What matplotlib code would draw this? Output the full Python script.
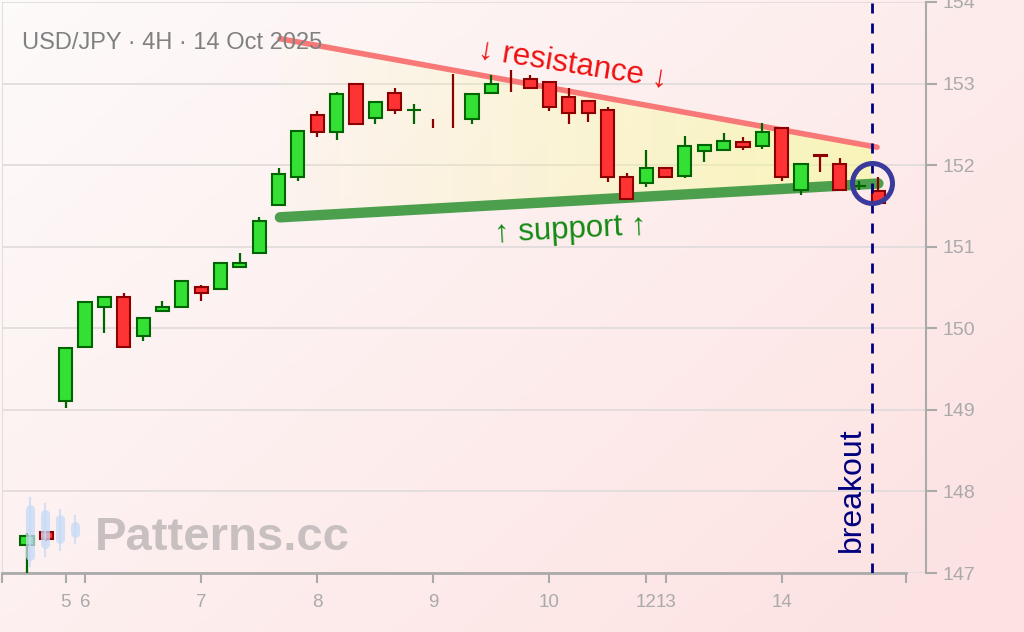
import numpy as np
import matplotlib
matplotlib.use('Agg')
import matplotlib.pyplot as plt
from matplotlib.patches import Polygon, Rectangle

plt.rcParams['font.family'] = ['Liberation Sans', 'DejaVu Sans']

# USD/JPY 4H candles (one entry per bar)
opens = [147.34, 147.50, 149.11, 149.77, 150.26, 150.38, 149.91, 150.21, 150.26, 150.50,
         150.48, 150.75, 150.92, 151.51, 151.85, 152.62, 152.41, 152.99, 152.58, 152.89,
         152.67, 152.523, 152.703, 152.56, 152.88, 153.003, 153.06, 153.02, 152.83, 152.79,
         152.67, 151.85, 151.78, 151.96, 151.87, 152.17, 152.19, 152.28, 152.24, 152.46,
         151.70, 152.12, 152.01, 151.74, 151.68]
highs = [147.49, 147.51, 149.77, 150.33, 150.39, 150.43, 150.14, 150.33, 150.59, 150.53,
         150.81, 150.92, 151.36, 151.97, 152.43, 152.66, 152.90, 153.00, 152.79, 152.95,
         152.75, 152.56, 153.12, 152.88, 153.10, 153.17, 153.10, 153.03, 152.95, 152.80,
         152.71, 151.90, 152.19, 151.97, 152.36, 152.26, 152.39, 152.34, 152.52, 152.47,
         152.02, 152.12, 152.09, 151.80, 151.86]
lows = [146.95, 147.39, 149.02, 149.77, 149.94, 149.76, 149.85, 150.20, 150.26, 150.33,
        150.47, 150.74, 150.92, 151.50, 151.80, 152.34, 152.31, 152.50, 152.51, 152.63,
        152.50, 152.46, 152.46, 152.50, 152.87, 152.90, 152.94, 152.66, 152.50, 152.53,
        151.79, 151.57, 151.73, 151.84, 151.84, 152.04, 152.18, 152.18, 152.20, 151.80,
        151.64, 151.92, 151.68, 151.70, 151.53]
closes = [147.45, 147.42, 149.76, 150.32, 150.38, 149.77, 150.13, 150.26, 150.58, 150.43,
          150.80, 150.80, 151.32, 151.89, 152.42, 152.41, 152.87, 152.51, 152.78, 152.68,
          152.68, 152.52, 152.70, 152.87, 152.99, 153.00, 152.95, 152.71, 152.64, 152.64,
          151.85, 151.58, 151.96, 151.85, 152.24, 152.25, 152.29, 152.22, 152.41, 151.85,
          152.01, 152.11, 151.70, 151.75, 151.53]

day_ticks = [2, 3, 9, 15, 21, 27, 32, 33, 39]
day_labels = ['5', '6', '7', '8', '9', '10', '12', '13', '14']
price_ticks = [147, 148, 149, 150, 151, 152, 153, 154]

# triangle lines
resist_x = [13.07, 43.93]
resist_y = [153.55, 152.22]
support_x = [13.07, 44.0]
support_y = [151.36, 151.775]
breakout_x = 43.67
breakout_y = 151.78

fig = plt.figure(figsize=(10.24, 6.32), dpi=100)

# soft pink background
bg = fig.add_axes([0, 0, 1, 1], zorder=-10)
bg.axis('off')
gx, gy = np.meshgrid(np.linspace(0, 1, 256), np.linspace(0, 1, 160))
t = np.clip(0.65 * gx + 0.45 * gy, 0, 1)[..., None]
c0 = np.array([0.996, 0.982, 0.982])
c1 = np.array([0.992, 0.890, 0.890])
bg.imshow(c0 * (1 - t) + c1 * t, aspect='auto', extent=[0, 1, 0, 1])

# main chart, bar i sits at pixel 27 + 19.35 * i
ax = fig.add_axes([2 / 1024, 59 / 632, 924 / 1024, 571 / 632])
ax.set_facecolor('none')

# pale yellow wedge, fading out to the left
xs = np.linspace(resist_x[0], breakout_x, 60)
top = np.interp(xs, resist_x, resist_y)
bot = np.interp(xs, support_x, support_y)
wedge = Polygon(np.column_stack([np.r_[xs, xs[::-1]], np.r_[top, bot[::-1]]]),
                closed=True, fc='none', ec='none')
ax.add_patch(wedge)
grad = np.zeros((2, 256, 4))
grad[..., :3] = (0.96, 1.0, 0.55)
grad[..., 3] = np.linspace(0.03, 0.52, 256)
im = ax.imshow(grad, extent=[resist_x[0], breakout_x, 151.2, 153.7], aspect='auto',
               origin='lower', zorder=1)
im.set_clip_path(wedge)

ax.plot(resist_x, resist_y, color='#f87878', lw=4, solid_capstyle='round', zorder=3)
ax.plot(support_x, support_y, color='#4c9f4c', lw=7.5, solid_capstyle='round', zorder=3)

# candles
w = 0.68
for i in range(len(opens)):
    o, h, l, c = opens[i], highs[i], lows[i], closes[i]
    up = c >= o
    face = '#33e033' if up else '#ff3333'
    edge = '#006400' if up else '#8b0000'
    ax.vlines(i, l, h, color=edge, lw=1.6, zorder=4)
    if abs(c - o) >= 0.005:
        ax.add_patch(Rectangle((i - w / 2, min(o, c)), w, abs(c - o),
                               fc=face, ec=edge, lw=1.5, zorder=5))

ax.axvline(breakout_x, color='#000080', lw=2, ls=(0, (3.6, 3.6)), zorder=6)
ax.plot(breakout_x, breakout_y, 'o', ms=28.8, mfc='none', mec='#3a3a9c', mew=3.6, zorder=7)

ax.text(28.2, 153.23, '↓ resistance ↓', color='#ee1111', fontsize=22.5, rotation=-9,
        ha='center', va='center', rotation_mode='anchor', zorder=8)
ax.text(28.1, 151.2, '↑ support ↑', color='#138a13', fontsize=22.5, rotation=3,
        ha='center', va='center', rotation_mode='anchor', zorder=8)
ax.text(42.64, 147.26, 'breakout', color='#000080', fontsize=23, rotation=90,
        ha='center', va='bottom', zorder=8)

ax.set_xlim((2 - 27) / 19.35, (926 - 27) / 19.35)
ax.set_ylim(147, 154)

ax.spines['top'].set_visible(False)
ax.spines['left'].set_color('#e4dede')
ax.spines['right'].set_color('#aaaaaa')
ax.spines['right'].set_linewidth(1.5)
ax.spines['bottom'].set_color('#aaaaaa')
ax.spines['bottom'].set_linewidth(2)
ax.spines['bottom'].set_bounds((2 - 27) / 19.35, (906 - 27) / 19.35)

ax.yaxis.tick_right()
ax.set_yticks(price_ticks)
ax.tick_params(axis='y', direction='out', length=8, width=1.5, colors='#aaaaaa',
               labelsize=14, pad=4)
ax.set_xticks(day_ticks)
ax.set_xticklabels(day_labels)
ax.set_xticks([(2 - 27) / 19.35, (906 - 27) / 19.35], minor=True)
ax.tick_params(axis='x', which='both', direction='out', length=7, width=1.5,
               colors='#aaaaaa', labelsize=13.5, pad=8)
ax.yaxis.grid(True, color='#e2dcdc', lw=1.3)
ax.set_axisbelow(True)

# overlay in pixel coordinates for title and watermark
ov = fig.add_axes([0, 0, 1, 1], zorder=10)
ov.set_xlim(0, 1024)
ov.set_ylim(632, 0)
ov.axis('off')
ov.text(22, 49, 'USD/JPY · 4H · 14 Oct 2025', color='#808080', fontsize=17, va='baseline')
ov.text(95, 550, 'Patterns.cc', color='#c8c0c0', fontsize=34, fontweight='bold', va='baseline')
for lx, wt, bt, bb, wb in [(30, 498, 505, 560, 566), (45, 504, 510, 548, 556),
                           (60, 510, 515, 543, 550), (75, 516, 522, 537, 543)]:
    ov.plot([lx, lx], [wt, wb], color='#c6daf6', lw=1.5, alpha=0.75)
    ov.plot([lx, lx], [bt + 4, bb - 4], color='#c6daf6', lw=6.5, alpha=0.75,
            solid_capstyle='round')

fig.savefig('out.png', dpi=100)
